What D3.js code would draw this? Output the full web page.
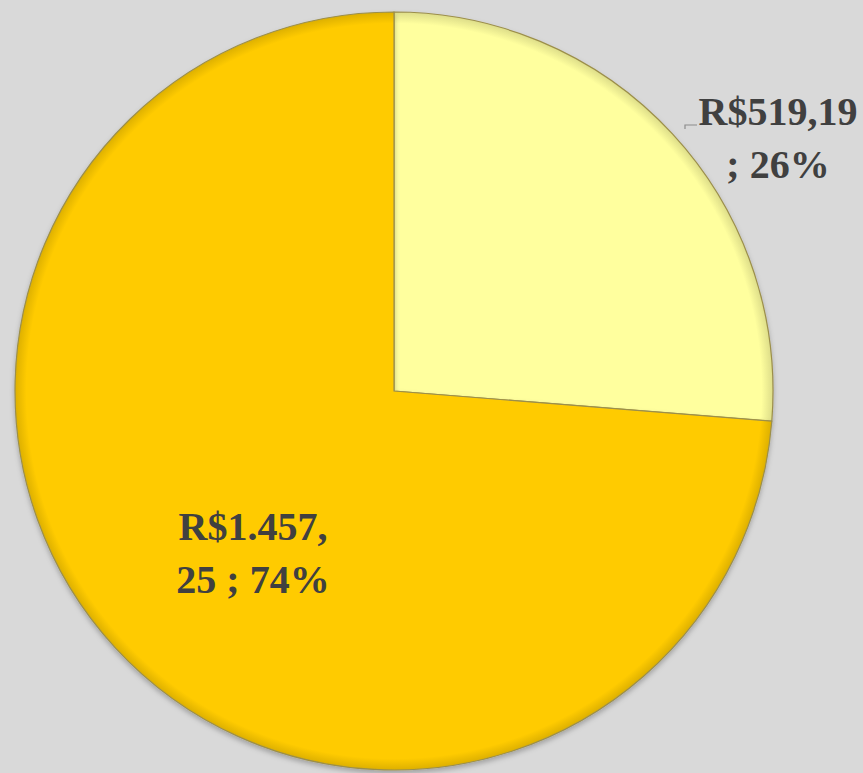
<!DOCTYPE html>
<html>
<head>
<meta charset="utf-8">
<script src="https://cdn.jsdelivr.net/npm/d3@7"></script>
<style>
  body { margin: 0; background: #d9d9d9; }
  #chart { width: 863px; height: 773px; }
</style>
</head>
<body>
<div id="chart"></div>
<script>
// slice data
const values = [519.19, 1457.25];
const valueLabels = ['R$519,19', 'R$1.457,25'];
const pctLabels = ['26%', '74%'];
const colors = ['#ffff9e', '#ffcb05'];

const width = 863;
const height = 773;
const cx = 394;
const cy = 391;
const radius = 379;

const svg = d3.select('#chart')
    .append('svg')
    .attr('width', width)
    .attr('height', height);

svg.append('rect')
    .attr('width', width)
    .attr('height', height)
    .attr('fill', '#d9d9d9');

const defs = svg.append('defs');

// soft bevel at the edges of each slice
colors.forEach((c, i) => {
    const grad = defs.append('radialGradient')
        .attr('id', 'grad' + i)
        .attr('gradientUnits', 'userSpaceOnUse')
        .attr('cx', 0).attr('cy', 0).attr('r', radius);
    grad.append('stop').attr('offset', '0%').attr('stop-color', c);
    grad.append('stop').attr('offset', '97%').attr('stop-color', c);
    grad.append('stop').attr('offset', '100%').attr('stop-color', d3.color(c).darker(0.4));
});

const shadow = defs.append('filter')
    .attr('id', 'shadow')
    .attr('x', '-10%').attr('y', '-10%')
    .attr('width', '120%').attr('height', '120%');
shadow.append('feDropShadow')
    .attr('dx', 0).attr('dy', 3)
    .attr('stdDeviation', 2.5)
    .attr('flood-color', '#000')
    .attr('flood-opacity', 0.25);

const pie = d3.pie().sort(null).value(d => d);
const arcs = pie(values);

const arc = d3.arc()
    .innerRadius(0)
    .outerRadius(radius);

const g = svg.append('g')
    .attr('transform', `translate(${cx},${cy})`);

g.selectAll('path.slice')
    .data(arcs)
    .join('path')
    .attr('class', 'slice')
    .attr('d', arc)
    .attr('fill', (d, i) => `url(#grad${i})`)
    .attr('stroke', '#9c8f4a')
    .attr('stroke-width', 1.2)
    .attr('filter', 'url(#shadow)');

// labels
const labelFont = "'Liberation Serif', 'Times New Roman', serif";

// small slice label, outside with a short leader stub
const lbl0 = { x: 778 - cx, y: 125 - cy };

g.append('polyline')
    .attr('points', [[685 - cx, lbl0.y + 4], [685 - cx, lbl0.y], [697 - cx, lbl0.y]].map(p => p.join(',')).join(' '))
    .attr('fill', 'none')
    .attr('stroke', '#8c8c8c')
    .attr('stroke-width', 1.2);

const t0 = g.append('text')
    .attr('font-family', labelFont)
    .attr('font-weight', 'bold')
    .attr('font-size', 40)
    .attr('fill', '#404040')
    .attr('text-anchor', 'middle');
t0.append('tspan').attr('x', lbl0.x).attr('y', lbl0.y).text(valueLabels[0]);
t0.append('tspan').attr('x', lbl0.x).attr('y', lbl0.y + 53).text('; ' + pctLabels[0]);

// big slice label, inside
const parts = valueLabels[1].split(',');
const t1 = g.append('text')
    .attr('font-family', labelFont)
    .attr('font-weight', 'bold')
    .attr('font-size', 40)
    .attr('fill', '#404040')
    .attr('text-anchor', 'middle');
t1.append('tspan').attr('x', 253 - cx).attr('y', 540 - cy).text(parts[0] + ',');
t1.append('tspan').attr('x', 253 - cx).attr('y', 593 - cy).text(parts[1] + ' ; ' + pctLabels[1]);
</script>
</body>
</html>
